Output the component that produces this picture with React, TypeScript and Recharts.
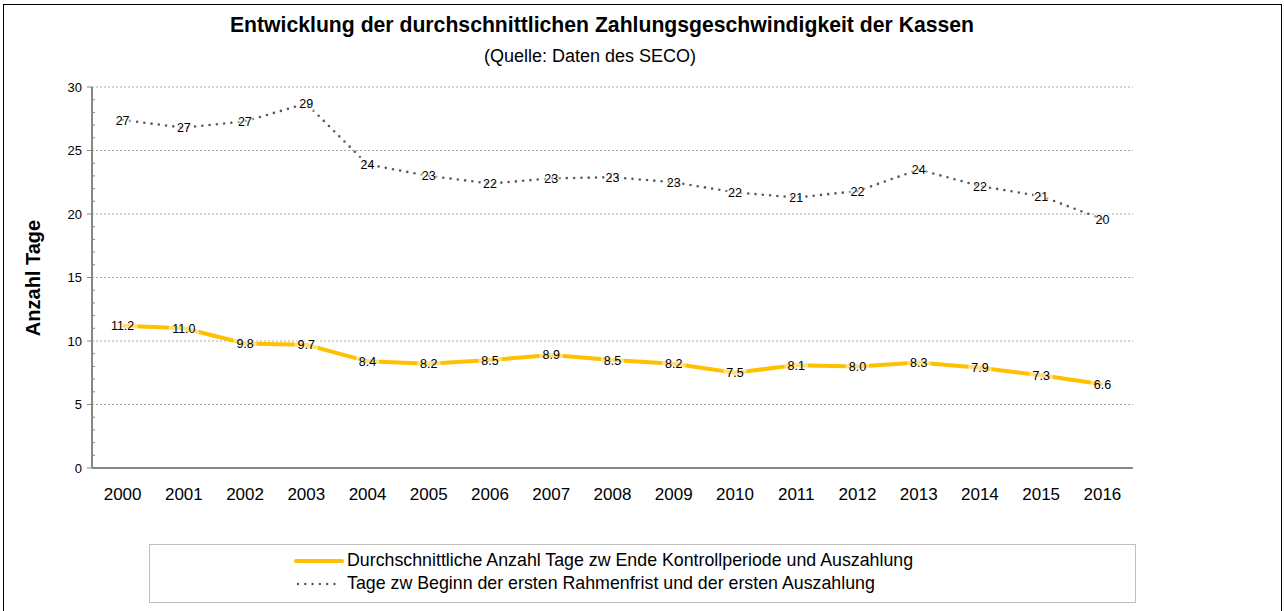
import { LineChart, Line, XAxis, YAxis, CartesianGrid, LabelList } from "recharts"

const years = ["2000", "2001", "2002", "2003", "2004", "2005", "2006", "2007", "2008", "2009", "2010", "2011", "2012", "2013", "2014", "2015", "2016"]
const avgDaysEndToPayout = [11.2, 11.0, 9.8, 9.7, 8.4, 8.2, 8.5, 8.9, 8.5, 8.2, 7.5, 8.1, 8.0, 8.3, 7.9, 7.3, 6.6]
const daysFrameToFirstPayout = [27.4, 26.8, 27.3, 28.7, 23.9, 23.0, 22.4, 22.8, 22.9, 22.5, 21.7, 21.3, 21.8, 23.5, 22.2, 21.4, 19.6]
const majorTicks = [0, 5, 10, 15, 20, 25, 30]
const minorTicks = [0, 1, 2, 3, 4, 5, 6, 7, 8, 9, 10, 11, 12, 13, 14, 15, 16, 17, 18, 19, 20, 21, 22, 23, 24, 25, 26, 27, 28, 29, 30]

const seriesNames = {
  avg: "Durchschnittliche Anzahl Tage zw Ende Kontrollperiode und Auszahlung",
  frame: "Tage zw Beginn der ersten Rahmenfrist und der ersten Auszahlung",
}

const data = years.map((year, i) => ({
  year,
  avg: avgDaysEndToPayout[i],
  frame: daysFrameToFirstPayout[i],
}))

const FONT = "'Liberation Sans', Arial, sans-serif"

// label with a half transparent white box behind it, like Excel does
function boxLabel(digits: number) {
  return (props: any) => {
    const { x, y, value } = props
    const text = digits === 0 ? String(Math.round(value)) : Number(value).toFixed(digits)
    const w = text.length * 6.8 + 3
    return (
      <g>
        <rect x={x - w / 2} y={y - 7.5} width={w} height={15} fill="#fff" opacity={0.5} />
        <text x={x} y={y} dy={4.5} textAnchor="middle" fontSize={12.5} fontFamily={FONT} fill="#000">
          {text}
        </text>
      </g>
    )
  }
}

// y ticks: major ones get a label and an outside mark, minor ones a short inside mark
const YTick = (props: any) => {
  const { x, y, payload } = props
  const v = payload.value
  if (majorTicks.includes(v)) {
    return (
      <g>
        <line x1={x - 5} y1={y} x2={x} y2={y} stroke="#868686" strokeWidth={1} />
        <text x={x - 10} y={y} dy={4.5} textAnchor="end" fontSize={13} fontFamily={FONT} fill="#000">
          {v}
        </text>
      </g>
    )
  }
  return <line x1={x} y1={y} x2={x + 3} y2={y} stroke="#868686" strokeWidth={1} />
}

export default function App() {
  return (
    <div
      style={{
        position: "absolute",
        left: 3,
        top: 4,
        width: 1277,
        height: 620,
        border: "1px solid #000",
        background: "#fff",
        fontFamily: FONT,
      }}
    >
      <div style={{ position: "absolute", left: 0, width: 1196, top: 8, textAlign: "center", fontSize: 21.2, fontWeight: "bold", color: "#000" }}>
        Entwicklung der durchschnittlichen Zahlungsgeschwindigkeit der Kassen
      </div>
      <div style={{ position: "absolute", left: 0, width: 1172, top: 41, textAlign: "center", fontSize: 18, color: "#000" }}>
        (Quelle: Daten des SECO)
      </div>
      <div
        style={{
          position: "absolute",
          left: 29,
          top: 273,
          transform: "translate(-50%, -50%) rotate(-90deg)",
          fontSize: 20,
          fontWeight: "bold",
          whiteSpace: "nowrap",
        }}
      >
        Anzahl Tage
      </div>

      <div style={{ position: "absolute", left: 0, top: 0 }}>
        <LineChart width={1277} height={505} data={data} margin={{ top: 82, right: 148, left: 0, bottom: 0 }}>
          <CartesianGrid vertical={false} stroke="#a6a6a6" strokeDasharray="2 2" horizontalValues={majorTicks} />
          <XAxis
            dataKey="year"
            axisLine={{ stroke: "#868686", strokeWidth: 2 }}
            tickLine={false}
            padding={{ left: 30.6, right: 30.6 }}
            tick={{ fontSize: 17, fill: "#000", fontFamily: FONT }}
            tickMargin={14}
            height={42}
          />
          <YAxis
            domain={[0, 30]}
            ticks={minorTicks}
            interval={0}
            width={88}
            axisLine={{ stroke: "#868686", strokeWidth: 2 }}
            tickLine={false}
            tickSize={0}
            tickMargin={0}
            tick={<YTick />}
          />
          <Line
            dataKey="frame"
            name={seriesNames.frame}
            stroke="#595959"
            strokeWidth={2.6}
            strokeDasharray="0 7.3"
            strokeLinecap="round"
            dot={false}
            activeDot={false}
            isAnimationActive={false}
          >
            <LabelList dataKey="frame" content={boxLabel(0)} />
          </Line>
          <Line
            dataKey="avg"
            name={seriesNames.avg}
            stroke="#ffc000"
            strokeWidth={4}
            dot={false}
            activeDot={false}
            isAnimationActive={false}
          >
            <LabelList dataKey="avg" content={boxLabel(1)} />
          </Line>
        </LineChart>
      </div>

      <div
        style={{
          position: "absolute",
          left: 145,
          top: 539,
          width: 985,
          height: 57,
          border: "1px solid #bfbfbf",
          fontSize: 17.8,
          color: "#000",
        }}
      >
        <div style={{ position: "absolute", left: 144, top: 5, display: "flex", alignItems: "center", whiteSpace: "nowrap" }}>
          <svg width={50} height={10} style={{ marginRight: 3 }}>
            <line x1={2} y1={5} x2={48} y2={5} stroke="#ffc000" strokeWidth={4} strokeLinecap="round" />
          </svg>
          {seriesNames.avg}
        </div>
        <div style={{ position: "absolute", left: 144, top: 28, display: "flex", alignItems: "center", whiteSpace: "nowrap" }}>
          <svg width={50} height={10} style={{ marginRight: 3 }}>
            <line x1={4} y1={5} x2={46} y2={5} stroke="#595959" strokeWidth={2.4} strokeDasharray="0 7.3" strokeLinecap="round" />
          </svg>
          {seriesNames.frame}
        </div>
      </div>
    </div>
  )
}
